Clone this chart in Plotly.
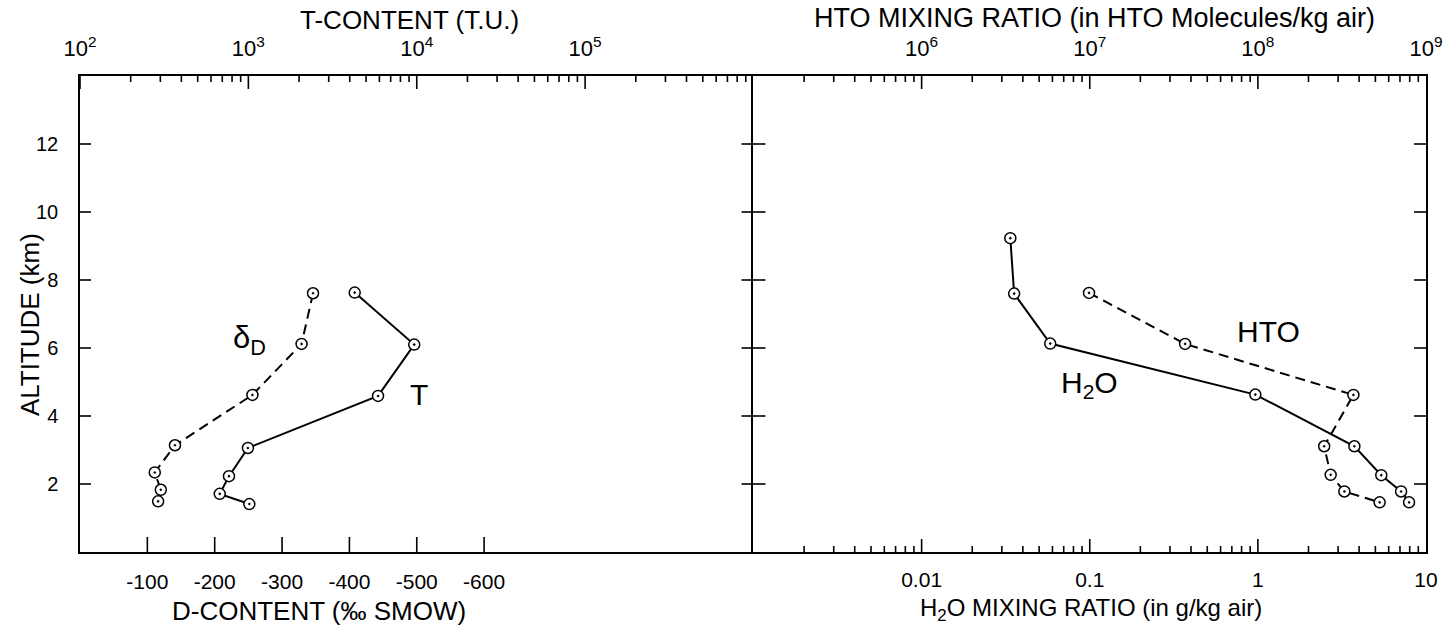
import plotly.graph_objects as go

# ---- data: vertical profiles ----
# left panel: deuterium (delta D, per mil SMOW) and tritium (T.U.)
altitude_d = [7.61, 6.12, 4.62, 3.14, 2.34, 1.83, 1.49]
delta_d = [-346, -329, -256, -141, -111, -120, -116]

altitude_t = [7.63, 6.10, 4.59, 3.06, 2.23, 1.71, 1.41]
tritium_tu = [4280, 9660, 5890, 994, 767, 676, 1013]

# right panel: H2O mixing ratio (g/kg air) and HTO mixing ratio (molecules/kg air)
altitude_h2o = [9.23, 7.60, 6.13, 4.63, 3.11, 2.26, 1.78, 1.46]
h2o_g_per_kg = [0.0337, 0.0355, 0.0582, 0.966, 3.75, 5.42, 7.11, 7.93]

altitude_hto = [7.62, 6.12, 4.62, 3.11, 2.27, 1.78, 1.46]
hto_molecules = [9.9e6, 3.69e7, 3.70e8, 2.48e8, 2.71e8, 3.27e8, 5.30e8]

# tick labels
altitude_ticks = [2, 4, 6, 8, 10, 12]
d_ticks = [-100, -200, -300, -400, -500, -600]
t_ticks = [1e2, 1e3, 1e4, 1e5]
t_ticktext = ["10<sup>2</sup>", "10<sup>3</sup>", "10<sup>4</sup>", "10<sup>5</sup>"]
h2o_ticks = [0.01, 0.1, 1, 10]
h2o_ticktext = ["0.01", "0.1", "1", "10"]
hto_ticks = [1e6, 1e7, 1e8, 1e9]
hto_ticktext = ["10<sup>6</sup>", "10<sup>7</sup>", "10<sup>8</sup>", "10<sup>9</sup>"]

# ---- page geometry ----
W_PX, H_PX = 1455, 631
L, R, T, B = 80, 26, 76, 79
PW = W_PX - L - R
PH = H_PX - T - B
SPLIT = (755 - L) / PW


def px(x):
    return (x - L) / PW


def py(y):
    return 1 - (y - T) / PH


def decades(lo, hi):
    return [10.0 ** e for e in range(lo, hi + 1)]


def minor_log(lo, hi):
    return [m * 10.0 ** e for e in range(lo, hi) for m in range(2, 10)]


FONT = "Liberation Sans"
INK = "black"

marker = dict(symbol="circle-dot", size=11, color="white",
              line=dict(color=INK, width=1.5))

fig = go.Figure()
fig.add_trace(go.Scatter(x=delta_d, y=altitude_d, xaxis="x", yaxis="y",
                         mode="lines+markers", marker=marker,
                         line=dict(color=INK, width=2, dash="10px,6px"),
                         name="δD", showlegend=False))
fig.add_trace(go.Scatter(x=tritium_tu, y=altitude_t, xaxis="x2", yaxis="y",
                         mode="lines+markers", marker=marker,
                         line=dict(color=INK, width=2),
                         name="T", showlegend=False))
fig.add_trace(go.Scatter(x=h2o_g_per_kg, y=altitude_h2o, xaxis="x3", yaxis="y2",
                         mode="lines+markers", marker=marker,
                         line=dict(color=INK, width=2),
                         name="H2O", showlegend=False))
fig.add_trace(go.Scatter(x=hto_molecules, y=altitude_hto, xaxis="x4", yaxis="y2",
                         mode="lines+markers", marker=marker,
                         line=dict(color=INK, width=2, dash="10px,6px"),
                         name="HTO", showlegend=False))

axis_common = dict(showline=True, linecolor=INK, linewidth=1.5, showgrid=False,
                   zeroline=False, ticks="",
                   tickfont=dict(family=FONT, size=21, color=INK))
top_font = dict(family=FONT, size=22, color=INK)

fig.update_layout(
    width=W_PX, height=H_PX,
    margin=dict(l=L, r=R, t=T, b=B, pad=0),
    paper_bgcolor="white", plot_bgcolor="white",
    font=dict(family=FONT, color=INK),
    xaxis=dict(axis_common, domain=[0, SPLIT], anchor="y", side="bottom",
               range=[0, -1000], tickmode="array", tickvals=d_ticks,
               ticktext=[str(v) for v in d_ticks], ticklabelstandoff=10),
    xaxis2=dict(axis_common, domain=[0, SPLIT], anchor="y", side="top",
                overlaying="x", type="log", range=[2, 6], tickmode="array",
                tickvals=t_ticks, ticktext=t_ticktext,
                tickfont=top_font, ticklabelstandoff=9),
    xaxis3=dict(axis_common, domain=[SPLIT, 1], anchor="y2", side="bottom",
                type="log", range=[-3, 1], tickmode="array",
                tickvals=h2o_ticks, ticktext=h2o_ticktext, ticklabelstandoff=8),
    xaxis4=dict(axis_common, domain=[SPLIT, 1], anchor="y2", side="top",
                overlaying="x3", type="log", range=[5, 9], tickmode="array",
                tickvals=hto_ticks, ticktext=hto_ticktext,
                tickfont=top_font, ticklabelstandoff=9),
    yaxis=dict(axis_common, domain=[0, 1], anchor="x", side="left",
               range=[0, 14], tickmode="array", tickvals=altitude_ticks,
               tickfont=dict(family=FONT, size=20, color=INK),
               ticklabelstandoff=16),
    yaxis2=dict(axis_common, domain=[0, 1], anchor="x3", side="left",
                matches="y", range=[0, 14], showticklabels=False,
                mirror=True),
)

# ---- tick marks (all pointing into the frame) ----
tick_line = dict(color=INK, width=1.6)
shapes = []


def vtick(xref, xval, top, length):
    y0 = 1.0 if top else 0.0
    y1 = y0 - length / PH if top else y0 + length / PH
    shapes.append(dict(type="line", xref=xref, yref="paper", x0=xval, x1=xval,
                       y0=y0, y1=y1, line=tick_line, layer="above"))


def htick(xa, xb, yval):
    shapes.append(dict(type="line", xref="paper", yref="y", x0=xa, x1=xb,
                       y0=yval, y1=yval, line=tick_line, layer="above"))


# shape coordinates on log axes are given as data values
for v in d_ticks:
    vtick("x", v, False, 15)
for v in decades(2, 5):
    vtick("x2", v, True, 13)
for v in minor_log(2, 6):
    vtick("x2", v, True, 6)
for v in decades(-2, 0):
    vtick("x3", v, False, 13)
for v in minor_log(-3, 1):
    vtick("x3", v, False, 6)
for v in decades(6, 8):
    vtick("x4", v, True, 13)
for v in minor_log(5, 9):
    vtick("x4", v, True, 6)
for v in altitude_ticks:
    htick(0, 11 / PW, v)
    htick(SPLIT - 12 / PW, SPLIT + 12 / PW, v)
    htick(1 - 12 / PW, 1, v)
fig.update_layout(shapes=shapes)

annotations = [
    # axis titles
    dict(text="T-CONTENT (T.U.)", x=px(410), y=py(20), size=26),
    dict(text="HTO MIXING RATIO (in HTO Molecules/kg air)", x=px(1097), y=py(18), size=27),
    dict(text="D-CONTENT (‰ SMOW)", x=px(320), y=py(611), size=26),
    dict(text="H<sub>2</sub>O MIXING RATIO (in g/kg air)", x=px(1093), y=py(609), size=24),
    # series labels
    dict(text="δ<sub>D</sub>", x=px(250), y=py(340), size=31),
    dict(text="T", x=px(420), y=py(394), size=30),
    dict(text="HTO", x=px(1271), y=py(331), size=30),
    dict(text="H<sub>2</sub>O", x=px(1092), y=py(384), size=30),
]
for a in annotations:
    fig.add_annotation(text=a["text"], x=a["x"], y=a["y"], xref="paper",
                       yref="paper", showarrow=False, xanchor="center",
                       yanchor="middle",
                       font=dict(family=FONT, size=a["size"], color=INK))

fig.add_annotation(text="ALTITUDE (km)", x=px(30), y=py(325), xref="paper",
                   yref="paper", showarrow=False, textangle=-90,
                   xanchor="center", yanchor="middle",
                   font=dict(family=FONT, size=26, color=INK))

fig.write_html("out.html")
